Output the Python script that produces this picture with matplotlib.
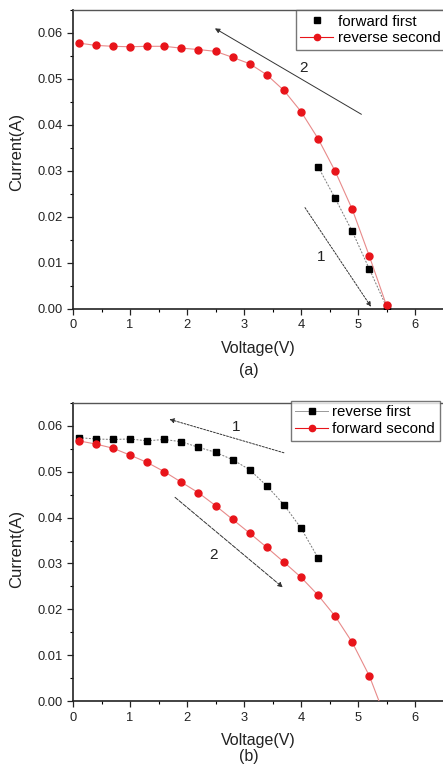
import matplotlib
matplotlib.use("Agg")
import matplotlib.pyplot as plt
from matplotlib.ticker import MultipleLocator, FormatStrFormatter

plt.rcParams['font.family'] = ['Liberation Sans', 'DejaVu Sans']

# ---- data (a) ----
a_fwd_v = [4.3, 4.6, 4.9, 5.2, 5.5]
a_fwd_i = [0.0309, 0.0240, 0.0168, 0.0086, 0.0004]
a_rev_v = [0.1, 0.4, 0.7, 1.0, 1.3, 1.6, 1.9, 2.2, 2.5, 2.8, 3.1, 3.4, 3.7, 4.0, 4.3, 4.6, 4.9, 5.2, 5.5]
a_rev_i = [0.0578, 0.0573, 0.0571, 0.0570, 0.0571, 0.0571, 0.0567, 0.0564, 0.0560, 0.0547, 0.0533,
           0.0509, 0.0475, 0.0429, 0.0370, 0.0299, 0.0216, 0.0114, 0.0007]

# ---- data (b) ----
b_rev_v = [0.1, 0.4, 0.7, 1.0, 1.3, 1.6, 1.9, 2.2, 2.5, 2.8, 3.1, 3.4, 3.7, 4.0, 4.3]
b_rev_i = [0.0574, 0.0571, 0.0570, 0.0571, 0.0567, 0.0570, 0.0565, 0.0553, 0.0542, 0.0526, 0.0504,
           0.0469, 0.0428, 0.0377, 0.0312]
b_fwd_v = [0.1, 0.4, 0.7, 1.0, 1.3, 1.6, 1.9, 2.2, 2.5, 2.8, 3.1, 3.4, 3.7, 4.0, 4.3, 4.6, 4.9, 5.2, 5.5]
b_fwd_i = [0.0567, 0.0560, 0.0551, 0.0536, 0.0520, 0.0500, 0.0477, 0.0454, 0.0426, 0.0396, 0.0366,
           0.0335, 0.0303, 0.0270, 0.0231, 0.0185, 0.0128, 0.0055, -0.0042]

x_ticks = [0, 1, 2, 3, 4, 5, 6]
y_ticks = [0.00, 0.01, 0.02, 0.03, 0.04, 0.05, 0.06]

W, H = 443, 766
fig = plt.figure(figsize=(W / 100, H / 100), dpi=100)

RED = '#e8141a'
REDLINE = '#e88a8a'
GREYLINE = '#777777'
TXT = '#222222'


def setup(ax):
    ax.set_xlim(0, 7)
    ax.set_ylim(0, 0.065)
    ax.set_xticks(x_ticks)
    ax.set_yticks(y_ticks)
    ax.yaxis.set_major_formatter(FormatStrFormatter('%.2f'))
    ax.xaxis.set_minor_locator(MultipleLocator(0.5))
    ax.yaxis.set_minor_locator(MultipleLocator(0.005))
    ax.tick_params(which='major', direction='out', length=4, width=0.9, labelsize=9.3, colors=TXT)
    ax.tick_params(which='minor', direction='out', length=2.2, width=0.8)
    ax.spines['right'].set_visible(False)
    for s in ['left', 'bottom']:
        ax.spines[s].set_linewidth(1.2)
        ax.spines[s].set_color(TXT)
    ax.spines['top'].set_linewidth(1.0)
    ax.spines['top'].set_color('#555555')


def arrow(ax, x0, y0, x1, y1, ls):
    ax.annotate('', xy=(x1, y1), xytext=(x0, y0),
                arrowprops=dict(arrowstyle='-|>', color='#333333', lw=0.7, ls=ls,
                                mutation_scale=7, shrinkA=0, shrinkB=0))


def legend(handles, labels, x, y):
    leg = fig.legend(handles, labels, loc='upper left', bbox_to_anchor=(x / W, 1 - y / H),
                     bbox_transform=fig.transFigure, fontsize=10.8, frameon=True, fancybox=False,
                     borderaxespad=0, borderpad=0.3, handlelength=2.2, handletextpad=0.3,
                     labelspacing=0.18, edgecolor='#555555')
    leg.get_frame().set_linewidth(1.0)


# ---------------- (a) ----------------
ax1 = fig.add_axes([73 / W, 1 - 308.7 / H, 399 / W, 298.7 / H])
setup(ax1)
ax1.plot(a_fwd_v, a_fwd_i, color=GREYLINE, lw=0.7, ls=(0, (2, 1.5)), marker='s', ms=4.8,
         mfc='black', mec='black', zorder=3)
ax1.plot(a_rev_v, a_rev_i, color=REDLINE, lw=0.8, marker='o', ms=5.0,
         mfc=RED, mec=RED, zorder=4)
arrow(ax1, 5.06, 0.0423, 2.49, 0.0610, '-')
arrow(ax1, 4.07, 0.0220, 5.23, 0.0004, (0, (2, 1.5)))
ax1.text(4.04, 0.0523, '2', fontsize=11, ha='center', va='center', color=TXT)
ax1.text(4.35, 0.0113, '1', fontsize=11, ha='center', va='center', color=TXT)
h1 = plt.Line2D([], [], color='none', marker='s', ms=4, mfc='black', mec='black')
h2 = plt.Line2D([], [], color=RED, lw=0.8, marker='o', ms=4.5, mfc=RED, mec=RED)
legend([h1, h2], ['forward first', 'reverse second'], 295.5, 10)
fig.text(16.7 / W, 1 - 151.7 / H, 'Current(A)', fontsize=12, rotation=90,
         ha='center', va='center', color=TXT)
fig.text(258.7 / W, 1 - 348 / H, 'Voltage(V)', fontsize=11.5, ha='center', va='center', color=TXT)
fig.text(249 / W, 1 - 370.5 / H, '(a)', fontsize=11.5, ha='center', va='center', color=TXT)

# ---------------- (b) ----------------
ax2 = fig.add_axes([73 / W, 1 - 701.3 / H, 399 / W, 298.6 / H])
setup(ax2)
ax2.plot(b_rev_v, b_rev_i, color=GREYLINE, lw=0.7, ls=(0, (2, 1.5)), marker='s', ms=4.8,
         mfc='black', mec='black', zorder=3)
ax2.plot(b_fwd_v, b_fwd_i, color=REDLINE, lw=0.8, marker='o', ms=5.0,
         mfc=RED, mec=RED, zorder=4, clip_on=True)
arrow(ax2, 3.70, 0.0541, 1.69, 0.0614, (0, (2, 1.5)))
arrow(ax2, 1.79, 0.0444, 3.68, 0.0248, (0, (4, 1.5)))
ax2.text(2.86, 0.0598, '1', fontsize=11, ha='center', va='center', color=TXT)
ax2.text(2.46, 0.0319, '2', fontsize=11, ha='center', va='center', color=TXT)
h3 = plt.Line2D([], [], color='#999999', lw=0.7, marker='s', ms=4, mfc='black', mec='black')
h4 = plt.Line2D([], [], color=RED, lw=0.8, marker='o', ms=4.5, mfc=RED, mec=RED)
legend([h3, h4], ['reverse first', 'forward second'], 290.5, 401)
fig.text(16.7 / W, 1 - 549 / H, 'Current(A)', fontsize=12, rotation=90,
         ha='center', va='center', color=TXT)
fig.text(258.7 / W, 1 - 740.5 / H, 'Voltage(V)', fontsize=11.5, ha='center', va='center', color=TXT)
fig.text(249 / W, 1 - 757 / H, '(b)', fontsize=11.5, ha='center', va='center', color=TXT)

fig.savefig('out.png', dpi=100)
